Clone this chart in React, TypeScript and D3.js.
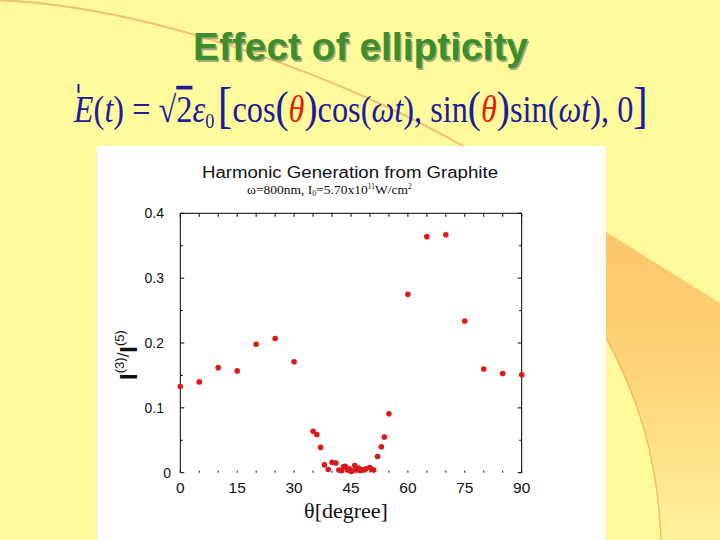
import React, { useLayoutEffect, useRef, useState } from "react";
import * as d3 from "d3";

// ---- data ----
const angles = [0, 5, 10, 15, 20, 25, 30, 35, 36, 37, 38, 39, 40, 41, 41.8, 42.5, 43, 43.5, 44, 44.5, 45, 45.5, 46, 46.5, 47, 47.5, 48, 48.5, 49, 50, 50.5, 51, 52, 53, 53.8, 55, 60, 65, 70, 75, 80, 85, 90];
const ratios = [0.133, 0.140, 0.162, 0.157, 0.198, 0.207, 0.171, 0.064, 0.059, 0.039, 0.012, 0.005, 0.016, 0.015, 0.004, 0.003, 0.009, 0.010, 0.004, 0.006, 0.002, 0.003, 0.011, 0.004, 0.007, 0.003, 0.005, 0.004, 0.006, 0.008, 0.005, 0.004, 0.025, 0.040, 0.055, 0.091, 0.275, 0.364, 0.367, 0.234, 0.160, 0.153, 0.151];
const xTicks = [0, 15, 30, 45, 60, 75, 90];
const yTicks = [0, 0.1, 0.2, 0.3, 0.4];
const yTickLabels = ["0", "0.1", "0.2", "0.3", "0.4"];
const slideTitle = "Effect of ellipticity";
const chartTitle = "Harmonic Generation from Graphite";
const xLabel = "θ[degree]";

const SANS = "'Liberation Sans', Arial, Helvetica, sans-serif";
const SERIF = "'Liberation Serif', 'Times New Roman', Times, serif";
const BLUE = "#1c1c9c";
const RED = "#e0200f";

export default function App() {
  const x = d3.scaleLinear().domain([0, 90]).range([180.3, 521.7]);
  const y = d3.scaleLinear().domain([0, 0.4]).range([472.7, 213.3]);
  const minorX = d3.range(0, 91, 5);
  const minorY = d3.range(0, 0.4001, 0.05);

  const fRef = useRef<SVGTextElement>(null);
  const [fx, setFx] = useState({ s: 1, tx: 0 });
  useLayoutEffect(() => {
    if (!fRef.current) return;
    const b = fRef.current.getBBox();
    const s = 575 / b.width;
    setFx({ s, tx: 73 - b.x * s });
  }, []);

  const pts = angles.map((a, i) => ({ a, r: ratios[i] }));

  return (
    <svg width={720} height={540} style={{ position: "absolute", left: 0, top: 0 }}>
      <defs>
        <linearGradient id="og" x1="0" y1="240" x2="0" y2="540" gradientUnits="userSpaceOnUse">
          <stop offset="0" stopColor="#fcc66a" />
          <stop offset="0.45" stopColor="#fdd47a" />
          <stop offset="1" stopColor="#fff29c" />
        </linearGradient>
      </defs>
      <rect x={0} y={0} width={720} height={540} fill="#fffb9d" />
      {/* decorative arcs */}
      <path d="M -5 0 C 150 5, 350 80, 470 150" fill="none" stroke="#f0c274" strokeWidth={2} />
      <path d="M 590 222 L 720 303 L 720 540 L 661 540 C 658 470, 645 400, 590 310 Z" fill="url(#og)" />
      <path d="M 661 540 C 658 470, 645 400, 590 310" fill="none" stroke="#efbe68" strokeWidth={1.5} />

      {/* slide title */}
      <text x={362} y={61.5} textAnchor="middle" fontFamily={SANS} fontWeight="bold" fontSize={38} fill="#a2aa7c" textLength={335} lengthAdjust="spacingAndGlyphs">{slideTitle}</text>
      <text x={360.5} y={60} textAnchor="middle" fontFamily={SANS} fontWeight="bold" fontSize={38} fill="#3d8d2e" textLength={335} lengthAdjust="spacingAndGlyphs">{slideTitle}</text>

      {/* formula */}
      <line x1={78.5} y1={84} x2={78.5} y2={93} stroke={BLUE} strokeWidth={2} />
      <text ref={fRef} x={73} y={122} fontFamily={SERIF} fontSize={37} fill={BLUE} transform={`translate(${fx.tx},0) scale(${fx.s},1)`}>
        <tspan fontStyle="italic">E</tspan>
        <tspan>(</tspan>
        <tspan fontStyle="italic">t</tspan>
        <tspan>{") = √"}</tspan>
        <tspan style={{ textDecoration: "overline" }}>2</tspan>
        <tspan fontStyle="italic">ε</tspan>
        <tspan fontSize={21} dy={6}>0</tspan>
        <tspan fontSize={50} dy={-6} dx={4}>[</tspan>
        <tspan>cos</tspan>
        <tspan fontSize={45}>(</tspan>
        <tspan fontStyle="italic" fill={RED}>θ</tspan>
        <tspan fontSize={45}>)</tspan>
        <tspan>cos(</tspan>
        <tspan fontStyle="italic">ωt</tspan>
        <tspan>{"), sin"}</tspan>
        <tspan fontSize={45}>(</tspan>
        <tspan fontStyle="italic" fill={RED}>θ</tspan>
        <tspan fontSize={45}>)</tspan>
        <tspan>sin(</tspan>
        <tspan fontStyle="italic">ωt</tspan>
        <tspan>{"), 0"}</tspan>
        <tspan fontSize={50}>]</tspan>
      </text>

      {/* white chart panel */}
      <rect x={97} y={146} width={509} height={394} fill="#ffffff" />

      <text x={350} y={178} textAnchor="middle" fontFamily={SANS} fontSize={16} fill="#111" textLength={296} lengthAdjust="spacingAndGlyphs">{chartTitle}</text>
      <text x={247} y={194} fontFamily={SERIF} fontSize={13.5} fill="#111">
        <tspan>ω=800nm, I</tspan>
        <tspan fontSize={8} dy={2}>0</tspan>
        <tspan dy={-2}>=5.70x10</tspan>
        <tspan fontSize={7.5} dy={-5}>11</tspan>
        <tspan dy={5}>W/cm</tspan>
        <tspan fontSize={7.5} dy={-5}>2</tspan>
      </text>

      {/* frame */}
      <line x1={x(0)} y1={y(0.4)} x2={x(90)} y2={y(0.4)} stroke="#000" strokeWidth={1} />
      <line x1={x(0)} y1={y(0.4)} x2={x(0)} y2={y(0)} stroke="#000" strokeWidth={1} />
      <line x1={x(90)} y1={y(0.4)} x2={x(90)} y2={y(0)} stroke="#000" strokeWidth={1} />
      {minorX.map((v) => (
        <g key={"tx" + v}>
          <line x1={x(v)} y1={y(0.4)} x2={x(v)} y2={y(0.4) + 3.5} stroke="#000" strokeWidth={1} />
          <line x1={x(v)} y1={y(0)} x2={x(v)} y2={y(0) - 2} stroke="#000" strokeWidth={1} />
        </g>
      ))}
      {minorY.map((v, i) => {
        const len = i % 2 === 0 ? 4 : 2.5;
        return (
          <g key={"ty" + i}>
            <line x1={x(0)} y1={y(v)} x2={x(0) + len} y2={y(v)} stroke="#000" strokeWidth={1} />
            <line x1={x(90)} y1={y(v)} x2={x(90) - len} y2={y(v)} stroke="#000" strokeWidth={1} />
          </g>
        );
      })}

      {/* tick labels */}
      {yTicks.map((v, i) => (
        <text key={"yl" + v} x={v === 0 ? 171 : 164} y={y(v)} dy="0.36em" textAnchor="end" fontFamily={SANS} fontSize={14} fill="#111">{yTickLabels[i]}</text>
      ))}
      {xTicks.map((v) => (
        <text key={"xl" + v} x={x(v)} y={493} textAnchor="middle" fontFamily={SANS} fontSize={15.5} fill="#111">{String(v)}</text>
      ))}

      {/* axis labels */}
      <text x={346} y={518} textAnchor="middle" fontFamily={SERIF} fontSize={22} fill="#111">{xLabel}</text>
      <text transform="translate(137,355) rotate(-90)" textAnchor="middle" fontFamily={SANS} fontSize={24} fill="#111">
        <tspan fontWeight="bold">I</tspan>
        <tspan fontSize={13} dy={-13}>(3)</tspan>
        <tspan fontSize={17} dy={5}>/</tspan>
        <tspan fontWeight="bold" dy={8}>I</tspan>
        <tspan fontSize={13} dy={-13}>(5)</tspan>
      </text>

      {/* data points */}
      {pts.map((p, i) => (
        <circle key={"p" + i} cx={x(p.a)} cy={y(p.r)} r={2.8} fill="#d81a1a" />
      ))}
    </svg>
  );
}
